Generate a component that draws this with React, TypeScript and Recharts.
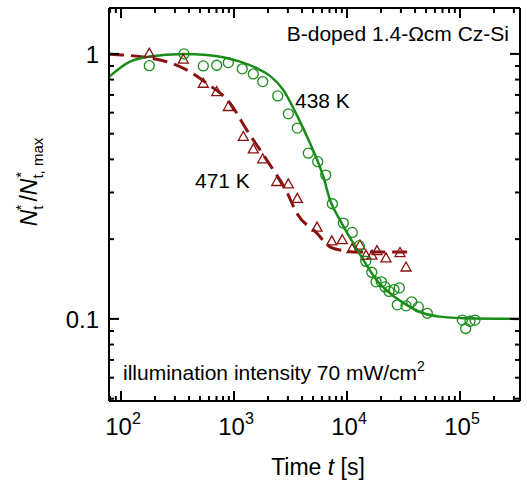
import React from "react";
import {
  ComposedChart,
  Line,
  Scatter,
  XAxis,
  YAxis,
  Customized,
} from "recharts";

// measured points, 438 K (open circles)
const t438 = [178, 361, 535, 703, 891, 1184, 1482, 1795, 2438, 3026, 3633, 4548, 5508, 6486, 7418, 9275, 11140, 12850, 14650, 16560, 18080, 20140, 21700, 23540, 26070, 29050, 27880, 33280, 37380, 42770, 51380, 104800, 112300, 122500, 135700];
const n438 = [0.903, 1.0, 0.901, 0.906, 0.927, 0.878, 0.84, 0.786, 0.694, 0.594, 0.525, 0.422, 0.392, 0.349, 0.272, 0.23, 0.212, 0.189, 0.165, 0.15, 0.138, 0.138, 0.132, 0.127, 0.129, 0.131, 0.113, 0.112, 0.116, 0.111, 0.105, 0.099, 0.092, 0.098, 0.099];

// measured points, 471 K (open triangles)
const t471 = [178, 356, 535, 703, 891, 1209, 1482, 1795, 2389, 3026, 3633, 5430, 7330, 9085, 11070, 13020, 14730, 16640, 18420, 22130, 29440, 33270];
const n471 = [1.006, 0.955, 0.775, 0.721, 0.633, 0.488, 0.438, 0.402, 0.33, 0.323, 0.285, 0.222, 0.197, 0.199, 0.184, 0.19, 0.174, 0.174, 0.181, 0.17, 0.178, 0.157];

// fitted curves
const tFit438 = [78.3, 120, 178, 356, 573, 803, 1130, 1588, 2083, 2731, 3589, 4709, 6172, 7075, 8670, 11370, 13940, 18320, 24030, 33730, 47300, 66500, 107000, 340000];
const nFit438 = [0.819, 0.935, 0.977, 1.0, 0.991, 0.972, 0.935, 0.883, 0.826, 0.731, 0.589, 0.46, 0.344, 0.281, 0.236, 0.193, 0.167, 0.14, 0.125, 0.113, 0.105, 0.102, 0.1006, 0.1];
const tFit471 = [78.3, 207, 381, 573, 922, 1295, 1945, 2924, 3589, 5395, 7075, 9275, 12180, 36140];
const nFit471 = [0.997, 0.955, 0.87, 0.775, 0.652, 0.517, 0.398, 0.302, 0.251, 0.211, 0.187, 0.181, 0.179, 0.179];

const xMajor = [100, 1000, 10000, 100000];
const xMinor = [80, 90, 200, 300, 400, 500, 600, 700, 800, 900, 2000, 3000, 4000, 5000, 6000, 7000, 8000, 9000, 20000, 30000, 40000, 50000, 60000, 70000, 80000, 90000, 200000, 300000];
const yMajor = [0.1, 1];
const yMinor = [0.05, 0.06, 0.07, 0.08, 0.09, 0.2, 0.3, 0.4, 0.5, 0.6, 0.7, 0.8, 0.9];

const GREEN = "#1a8c1a";
const RED = "#8b1010";
const FONT = "'Liberation Sans', Arial, Helvetica, sans-serif";

const zip = (ts: number[], ns: number[]) => ts.map((t, i) => ({ t, n: ns[i] }));
const pts438 = zip(t438, n438);
const pts471 = zip(t471, n471);
const fit438 = zip(tFit438, nFit438);
const fit471 = zip(tFit471, nFit471);

const xTicks = [...xMinor, ...xMajor].sort((a, b) => a - b);
const yTicks = [...yMinor, ...yMajor].sort((a, b) => a - b);
const X_DOMAIN = [78.3, 339600];
const Y_DOMAIN = [0.049, 1.49];

function makeTick(orient: "bottom" | "top" | "left" | "right") {
  return function Tick(props: any) {
    const { x, y, payload } = props;
    const v = payload.value;
    const major = orient === "bottom" || orient === "top" ? xMajor.includes(v) : yMajor.includes(v);
    const len = major ? 10 : 5;
    let line;
    if (orient === "bottom") line = <line x1={x} x2={x} y1={y} y2={y - len} stroke="#000" strokeWidth={2} />;
    else if (orient === "top") line = <line x1={x} x2={x} y1={y} y2={y + len} stroke="#000" strokeWidth={2} />;
    else if (orient === "left") line = <line x1={x} x2={x + len} y1={y} y2={y} stroke="#000" strokeWidth={2} />;
    else line = <line x1={x} x2={x - len} y1={y} y2={y} stroke="#000" strokeWidth={2} />;
    let label = null;
    if (major && orient === "bottom") {
      const exp = Math.round(Math.log10(v));
      label = (
        <text x={x + 2} y={y + 34} textAnchor="middle" fontSize={24} fontFamily={FONT} fill="#000">
          <tspan>10</tspan>
          <tspan dy={-11} fontSize={16}>{exp}</tspan>
        </text>
      );
    }
    if (major && orient === "left") {
      label = (
        <text x={x - 10} y={y + 9} textAnchor="end" fontSize={24} fontFamily={FONT} fill="#000">
          {v === 1 ? "1" : "0.1"}
        </text>
      );
    }
    return (
      <g>
        {line}
        {label}
      </g>
    );
  };
}

const circle = (props: any) => (
  <circle cx={props.cx} cy={props.cy} r={5} fill="none" stroke={GREEN} strokeWidth={1.3} />
);
const triangle = (props: any) => {
  const { cx, cy } = props;
  return (
    <path
      d={`M${cx},${cy - 5} L${cx + 5},${cy + 4} L${cx - 5},${cy + 4} Z`}
      fill="none"
      stroke={RED}
      strokeWidth={1.3}
    />
  );
};

function Annotations() {
  return (
    <g fontFamily={FONT} fill="#000">
      <text x={509} y={41} textAnchor="end" fontSize={21}>B-doped 1.4-Ωcm Cz-Si</text>
      <text x={295} y={108} fontSize={21}>438 K</text>
      <text x={195} y={188} fontSize={21}>471 K</text>
      <text x={123} y={380} fontSize={21}>
        illumination intensity 70 mW/cm<tspan dy={-9} fontSize={14}>2</tspan>
      </text>
      <text x={318} y={475} textAnchor="middle" fontSize={23}>
        Time <tspan fontStyle="italic">t</tspan> [s]
      </text>
      <text transform="translate(37,182) rotate(-90)" textAnchor="middle" fontSize={23}>
        <tspan fontStyle="italic">N</tspan>
        <tspan dy={6} fontSize={15}>t</tspan>
        <tspan dx={-5} dy={-17} fontSize={15}>*</tspan>
        <tspan dy={11} dx={3}>/</tspan>
        <tspan fontStyle="italic">N</tspan>
        <tspan dy={6} fontSize={15}>t, max</tspan>
        <tspan dx={-40} dy={-17} fontSize={15}>*</tspan>
      </text>
    </g>
  );
}

export default function App() {
  return (
    <div style={{ position: "fixed", left: 0, top: 0, width: 527, height: 486, background: "#fff" }}>
      <ComposedChart width={527} height={486} margin={{ top: 7, right: 6, bottom: 0, left: 0 }}>
        <XAxis
          xAxisId="b"
          dataKey="t"
          type="number"
          scale="log"
          domain={X_DOMAIN}
          allowDataOverflow
          ticks={xTicks}
          interval={0}
          height={85}
          tickSize={0}
          tickMargin={0}
          tickLine={false}
          axisLine={{ stroke: "#000", strokeWidth: 2 }}
          tick={makeTick("bottom")}
        />
        <XAxis
          xAxisId="top"
          orientation="top"
          dataKey="t"
          type="number"
          scale="log"
          domain={X_DOMAIN}
          allowDataOverflow
          ticks={xTicks}
          interval={0}
          height={1}
          tickSize={0}
          tickMargin={0}
          tickLine={false}
          axisLine={{ stroke: "#000", strokeWidth: 2 }}
          tick={makeTick("top")}
        />
        <YAxis
          yAxisId="l"
          dataKey="n"
          type="number"
          scale="log"
          domain={Y_DOMAIN}
          allowDataOverflow
          ticks={yTicks}
          interval={0}
          width={109}
          tickSize={0}
          tickMargin={0}
          tickLine={false}
          axisLine={{ stroke: "#000", strokeWidth: 2 }}
          tick={makeTick("left")}
        />
        <YAxis
          yAxisId="r"
          orientation="right"
          dataKey="n"
          type="number"
          scale="log"
          domain={Y_DOMAIN}
          allowDataOverflow
          ticks={yTicks}
          interval={0}
          width={1}
          tickSize={0}
          tickMargin={0}
          tickLine={false}
          axisLine={{ stroke: "#000", strokeWidth: 2 }}
          tick={makeTick("right")}
        />
        {/* invisible series so the mirrored top/right axes get drawn */}
        <Line
          xAxisId="top"
          yAxisId="r"
          data={fit438}
          dataKey="n"
          stroke="none"
          dot={false}
          activeDot={false}
          isAnimationActive={false}
        />
        <Line
          xAxisId="b"
          yAxisId="l"
          data={fit471}
          dataKey="n"
          type="monotone"
          stroke={RED}
          strokeWidth={3}
          strokeDasharray="15 7"
          dot={false}
          isAnimationActive={false}
        />
        <Line
          xAxisId="b"
          yAxisId="l"
          data={fit438}
          dataKey="n"
          type="monotone"
          stroke={GREEN}
          strokeWidth={2.5}
          dot={false}
          isAnimationActive={false}
        />
        <Scatter xAxisId="b" yAxisId="l" data={pts471} dataKey="n" shape={triangle} isAnimationActive={false} />
        <Scatter xAxisId="b" yAxisId="l" data={pts438} dataKey="n" shape={circle} isAnimationActive={false} />
        <Customized component={Annotations} />
      </ComposedChart>
    </div>
  );
}
